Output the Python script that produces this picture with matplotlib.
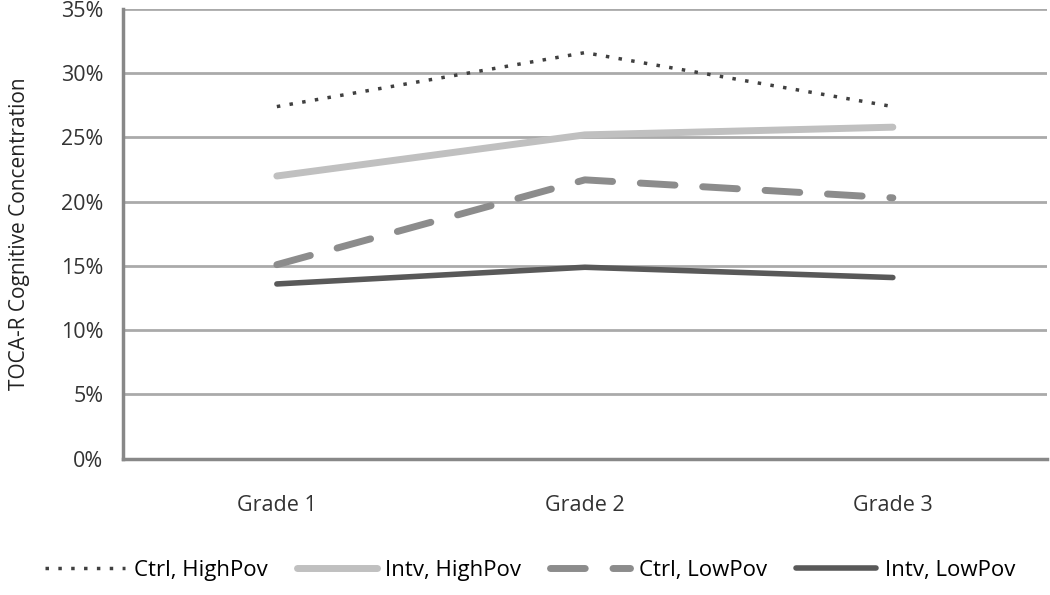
import matplotlib
matplotlib.use("Agg")
import matplotlib.pyplot as plt
from matplotlib.ticker import FuncFormatter

plt.rcParams['font.family'] = ['Open Sans', 'DejaVu Sans']

grades = ["Grade 1", "Grade 2", "Grade 3"]
ctrl_high = [27.4, 31.6, 27.4]
intv_high = [22.0, 25.2, 25.8]
ctrl_low = [15.1, 21.7, 20.3]
intv_low = [13.6, 14.9, 14.1]

fig = plt.figure(figsize=(10.5, 5.95), dpi=100)
ax = fig.add_axes([0.117, 0.229, 0.88, 0.756])

x = range(len(grades))
ax.plot(x, ctrl_high, color='#404040', lw=2.5, linestyle=(0, (1, 2.7)),
        label='Ctrl, HighPov')
ax.plot(x, intv_high, color='#c0c0c0', lw=5, solid_capstyle='round',
        label='Intv, HighPov')
ax.plot(x, ctrl_low, color='#8c8c8c', lw=5, linestyle=(0, (5, 4)),
        dash_capstyle='round', label='Ctrl, LowPov')
ax.plot(x, intv_low, color='#595959', lw=4, solid_capstyle='round',
        label='Intv, LowPov')

ax.set_xlim(-0.5, 2.5)
ax.set_ylim(0, 35)
ax.set_yticks(range(0, 36, 5))
ax.yaxis.set_major_formatter(FuncFormatter(lambda v, p: f"{v:.0f}%"))
ax.set_xticks(list(x))
ax.set_xticklabels(grades)
ax.tick_params(axis='both', length=0, labelsize=15.5, colors='#333333')
ax.tick_params(axis='x', pad=26)
ax.tick_params(axis='y', pad=14)
ax.grid(axis='y', color='#aaaaaa', lw=2)
ax.set_axisbelow(True)
for s in ['top', 'right']:
    ax.spines[s].set_visible(False)
for s in ['left', 'bottom']:
    ax.spines[s].set_color('#888888')
    ax.spines[s].set_linewidth(2.5)

ax.set_ylabel('TOCA-R Cognitive Concentration', fontsize=15, color='#222222',
              labelpad=22)

fig.legend(loc='lower center', ncol=4, frameon=False, fontsize=16,
           bbox_to_anchor=(0.505, -0.01), handlelength=3.6, columnspacing=1.3,
           handletextpad=0.4)

fig.savefig('out.png', dpi=100)
